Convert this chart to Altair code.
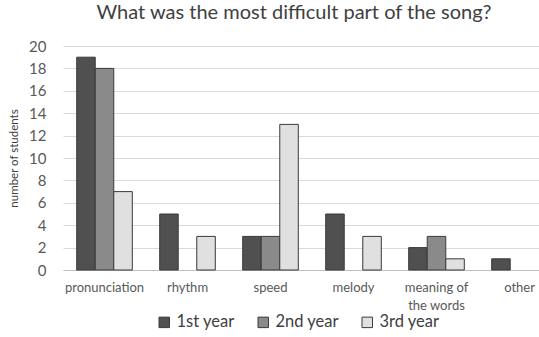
import altair as alt
import pandas as pd

categories = ["pronunciation", "rhythm", "speed", "melody", "meaning of the words", "other"]
years = ["1st year", "2nd year", "3rd year"]
first_year = [19, 5, 3, 5, 2, 1]
second_year = [18, 0, 3, 0, 3, 0]
third_year = [7, 3, 13, 3, 1, 0]

rows = []
for i, c in enumerate(categories):
    for y, vals in zip(years, [first_year, second_year, third_year]):
        rows.append({"category": c, "year": y, "value": vals[i]})
df = pd.DataFrame(rows)

font = "Lato"

chart = alt.Chart(df).transform_filter("datum.value > 0").mark_bar(
    stroke="#3a3a3a", strokeWidth=1
).encode(
    x=alt.X("category:N", sort=categories,
            scale=alt.Scale(paddingInner=0.33, paddingOuter=0.165, range=[0, 498]),
            axis=alt.Axis(title=None, labelAngle=0, labelFontSize=13, labelColor="#595959",
                          labelFont=font, domainColor="#bfbfbf", ticks=False, labelPadding=11,
                          labelLineHeight=18,
                          labelExpr="datum.value == 'meaning of the words' ? ['meaning of', 'the words'] : datum.value")),
    xOffset=alt.XOffset("year:N", sort=years),
    y=alt.Y("value:Q", scale=alt.Scale(domain=[0, 20]),
            axis=alt.Axis(title="number of students", values=list(range(0, 21, 2)),
                          titleFontSize=11.5, titleFont=font, titleColor="#404040", titleFontWeight="normal",
                          labelFontSize=15, labelFont=font, labelColor="#595959",
                          domain=False, ticks=False, gridColor="#d9d9d9", labelPadding=17, titlePadding=9)),
    fill=alt.Fill("year:N", sort=years,
                  scale=alt.Scale(domain=years, range=["#505050", "#8a8a8a", "#e0e0e0"]),
                  legend=alt.Legend(title=None, orient="none", direction="horizontal",
                                    legendX=93, legendY=268,
                                    labelFontSize=16.5, labelFont=font, labelColor="#404040",
                                    symbolType="square", symbolSize=110, symbolStrokeColor="#3a3a3a",
                                    symbolStrokeWidth=1, columnPadding=20, labelOffset=4)),
).properties(
    width=476, height=224,
    autosize=alt.AutoSizeParams(type="none"),
    title=alt.Title("What was the most difficult part of the song?", fontSize=20, font=font,
                    color="#404040", fontWeight="normal", anchor="middle", offset=16, dx=-7),
).configure(padding={"left": 63, "right": 0, "top": 46, "bottom": 67}).configure_view(stroke=None)

chart.save("out.html", embed_options={"renderer": "svg", "actions": False})
